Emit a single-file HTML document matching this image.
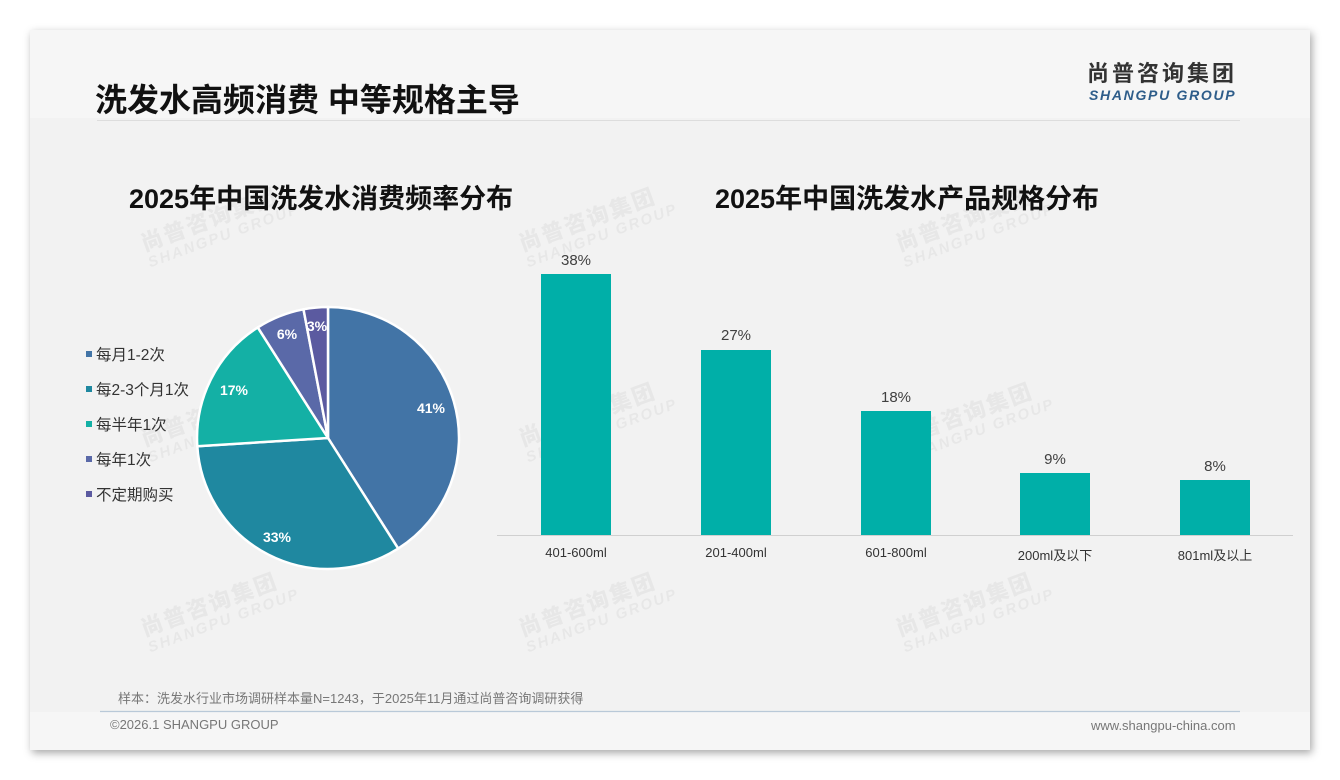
<!DOCTYPE html>
<html><head><meta charset="utf-8"><style>
body{margin:0;width:1340px;height:780px;background:#fff;position:relative;overflow:hidden;font-family:"Liberation Sans","Noto Sans CJK SC",sans-serif}
.slide{position:absolute;left:30px;top:30px;width:1280px;height:720px;background:#f2f2f2;box-shadow:2px 3px 8px rgba(0,0,0,.35)}
.hdr{position:absolute;left:0;top:0;width:1280px;height:88px;background:#f6f6f6}
.ftr{position:absolute;left:0;top:682px;width:1280px;height:38px;background:#f6f6f6}
.t{position:absolute;white-space:nowrap}
.wm{position:absolute;color:rgba(0,0,0,.045);font-weight:bold;transform:rotate(-20deg);line-height:1.1;white-space:nowrap}
.wm b{font-size:22px;letter-spacing:2px;display:block}
.wm i{font-size:15px;font-style:italic;letter-spacing:2px;display:block}
</style></head><body>
<div class="slide">
<div class="hdr"></div><div class="ftr"></div>
</div>
<div class="t" style="left:95px;top:75px;font-size:32px;font-weight:bold;color:#111">洗发水高频消费 中等规格主导</div>
<div class="t" style="left:1087px;top:61px;font-size:22px;line-height:26px;font-weight:bold;color:#333;letter-spacing:3px">尚普咨询集团</div>
<div class="t" style="left:1089px;top:87px;font-size:14px;line-height:16px;font-weight:bold;font-style:italic;color:#2e5d8a;letter-spacing:1.7px">SHANGPU GROUP</div>
<div style="position:absolute;left:97px;top:120px;width:1143px;height:1px;background:#ddd"></div>

<div class="wm" style="left:140px;top:205px"><b>尚普咨询集团</b><i>SHANGPU GROUP</i></div>
<div class="wm" style="left:518px;top:205px"><b>尚普咨询集团</b><i>SHANGPU GROUP</i></div>
<div class="wm" style="left:895px;top:205px"><b>尚普咨询集团</b><i>SHANGPU GROUP</i></div>
<div class="wm" style="left:140px;top:400px"><b>尚普咨询集团</b><i>SHANGPU GROUP</i></div>
<div class="wm" style="left:518px;top:400px"><b>尚普咨询集团</b><i>SHANGPU GROUP</i></div>
<div class="wm" style="left:895px;top:400px"><b>尚普咨询集团</b><i>SHANGPU GROUP</i></div>
<div class="wm" style="left:140px;top:590px"><b>尚普咨询集团</b><i>SHANGPU GROUP</i></div>
<div class="wm" style="left:518px;top:590px"><b>尚普咨询集团</b><i>SHANGPU GROUP</i></div>
<div class="wm" style="left:895px;top:590px"><b>尚普咨询集团</b><i>SHANGPU GROUP</i></div>

<div class="t" style="left:129px;top:177px;font-size:27px;font-weight:bold;color:#111">2025年中国洗发水消费频率分布</div>
<div class="t" style="left:715px;top:177px;font-size:27px;font-weight:bold;color:#111">2025年中国洗发水产品规格分布</div>

<svg style="position:absolute;left:0;top:0" width="1340" height="780">
<g stroke="#fff" stroke-width="2.5" stroke-linejoin="round">
<path d="M328 438 L328 307 A131 131 0 0 1 398.2 548.6 Z" fill="#4274a6"/>
<path d="M328 438 L398.2 548.6 A131 131 0 0 1 197.3 446.2 Z" fill="#1f88a0"/>
<path d="M328 438 L197.3 446.2 A131 131 0 0 1 257.8 327.4 Z" fill="#14b0a5"/>
<path d="M328 438 L257.8 327.4 A131 131 0 0 1 303.5 309.3 Z" fill="#5a69a8"/>
<path d="M328 438 L303.5 309.3 A131 131 0 0 1 328 307 Z" fill="#5b5aa0"/>
</g>
<g fill="#fff" font-size="14" font-weight="bold" font-family="Liberation Sans,sans-serif" text-anchor="middle">
<text x="431" y="413">41%</text><text x="277" y="542">33%</text><text x="234" y="395">17%</text><text x="287" y="339">6%</text><text x="317" y="331">3%</text>
</g>
<g font-size="15.5" fill="#333" font-family="Liberation Sans,Noto Sans CJK SC,sans-serif">
<rect x="86" y="351" width="6" height="6" fill="#4274a6"/><text x="96" y="360">每月1-2次</text>
<rect x="86" y="386" width="6" height="6" fill="#1f88a0"/><text x="96" y="395">每2-3个月1次</text>
<rect x="86" y="421" width="6" height="6" fill="#14b0a5"/><text x="96" y="430">每半年1次</text>
<rect x="86" y="456" width="6" height="6" fill="#5a69a8"/><text x="96" y="465">每年1次</text>
<rect x="86" y="491" width="6" height="6" fill="#5b5aa0"/><text x="96" y="500">不定期购买</text>
</g>
<line x1="497" y1="535.5" x2="1293" y2="535.5" stroke="#d0d0d0" stroke-width="1"/>
<g fill="#00afa8">
<rect x="541" y="274" width="70" height="261"/>
<rect x="701" y="350" width="70" height="185"/>
<rect x="861" y="411" width="70" height="124"/>
<rect x="1020" y="473" width="70" height="62"/>
<rect x="1180" y="480" width="70" height="55"/>
</g>
<g font-size="15" fill="#404040" text-anchor="middle" font-family="Liberation Sans,sans-serif">
<text x="576" y="265">38%</text><text x="736" y="340">27%</text><text x="896" y="402">18%</text><text x="1055" y="464">9%</text><text x="1215" y="471">8%</text>
</g>
<g font-size="13" fill="#333" text-anchor="middle" font-family="Liberation Sans,Noto Sans CJK SC,sans-serif">
<text x="576" y="557">401-600ml</text><text x="736" y="557">201-400ml</text><text x="896" y="557">601-800ml</text><text x="1055" y="560">200ml及以下</text><text x="1215" y="560">801ml及以上</text>
</g>
<line x1="100" y1="711.5" x2="1240" y2="711.5" stroke="#b9c9d8" stroke-width="1.2"/>
</svg>
<div class="t" style="left:118px;top:688px;font-size:13px;color:#777">样本：洗发水行业市场调研样本量N=1243，于2025年11月通过尚普咨询调研获得</div>
<div class="t" style="left:110px;top:717px;font-size:13px;color:#777">©2026.1 SHANGPU GROUP</div>
<div class="t" style="left:1091px;top:718px;font-size:13px;color:#777">www.shangpu-china.com</div>
</body></html>
